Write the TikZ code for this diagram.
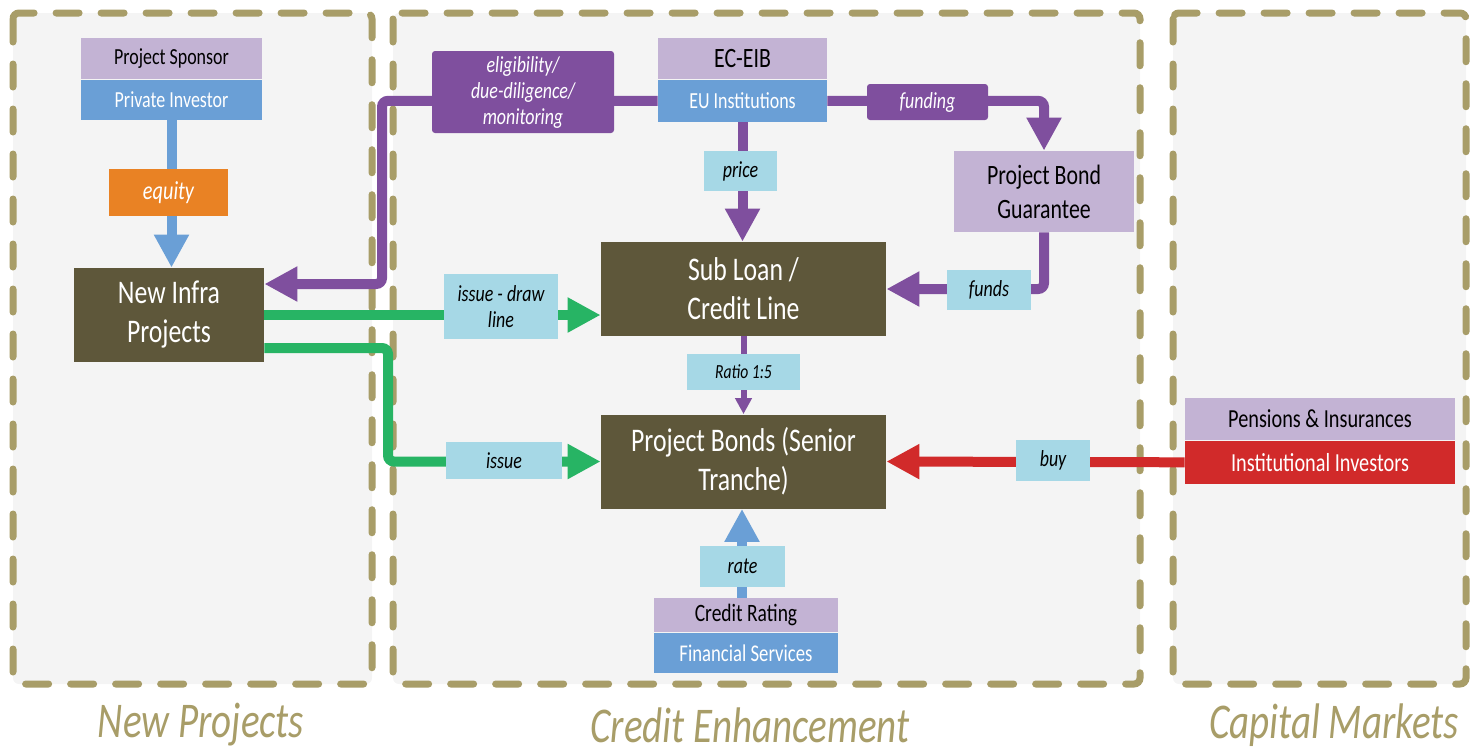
\documentclass[tikz,border=0pt]{standalone}
\usepackage{fontspec}
\setmainfont{Carlito}[FakeStretch=0.78]
\usepackage{tikz}
\usepackage{xcolor}
\usetikzlibrary{
    arrows.meta,
    positioning,
    calc
}
\definecolor{lavender}{HTML}{C3B3D4}
\definecolor{steel}{HTML}{6A9FD6}
\definecolor{tangerine}{HTML}{E98224}
\definecolor{olive}{HTML}{5E573A}
\definecolor{violet}{HTML}{7F4F9E}
\definecolor{sky}{HTML}{A6D8E6}
\definecolor{leaf}{HTML}{27B464}
\definecolor{crimson}{HTML}{D12A2A}
\definecolor{khaki}{HTML}{A89D68}
\definecolor{panelgray}{HTML}{F4F4F4}
\tikzset{
    % Dashed panel style
    panel/.style={
        draw=khaki,
        fill=panelgray,
        line width=3.5pt,
        dash pattern=on 11.5pt off 11pt,
        line cap=round,
        rounded corners=3pt
    },
    % Main entity style
    entity/.style={
        rectangle,
        minimum width=142.5pt,
        minimum height=47pt,
        inner sep=1pt,
        align=center,
        font=\fontsize{16.5}{19.5}\selectfont,
        fill=olive,
        text=white
    },
    % Upper half of a stacked actor
    role/.style={
        rectangle,
        inner sep=0pt,
        align=center,
        font=\fontsize{11.5}{13}\selectfont,
        fill=lavender,
        text=black
    },
    % Lower half of a stacked actor
    actor/.style={
        rectangle,
        inner sep=0pt,
        align=center,
        font=\fontsize{11.5}{13}\selectfont,
        fill=#1,
        text=white
    },
    % Label on a connector
    tag/.style={
        rectangle,
        inner sep=0pt,
        align=center,
        font=\itshape\fontsize{11.5}{13}\selectfont,
        fill=sky,
        text=black
    },
    % Dark label on a connector
    darktag/.style={
        tag,
        fill=#1,
        text=white,
        rounded corners=1.5pt
    },
    % Arrow styles
    flow/.style={
        -{Triangle[length=16.5pt, width=16.5pt]},
        line width=5pt,
        rounded corners=3pt,
        color=#1
    },
    thinflow/.style={
        -{Triangle[length=8pt, width=8pt]},
        line width=3pt,
        color=#1
    },
    % Section title style
    section title/.style={
        font=\itshape\fontsize{25}{28}\selectfont,
        text=khaki
    }
}

\begin{document}
\begin{tikzpicture}[x=0.5pt, y=-0.5pt]
    \useasboundingbox (0,0) rectangle (1481,752);

    % Panels
    \draw[panel] (13,13) rectangle (372,684);
    \draw[panel] (393,13) rectangle (1140,684);
    \draw[panel] (1173,13) rectangle (1466,684);

    % New projects
    \node[role, minimum width=90.5pt, minimum height=20.5pt] (sponsor) at (171.5,58.5) {Project Sponsor};
    \node[actor=steel, minimum width=90.5pt, minimum height=20pt, below=0pt of sponsor] (privinv) {Private Investor};
    \node[entity, minimum width=95pt] (infra) at (169,315) {New Infra\\Projects};

    % Credit enhancement
    \node[role, minimum width=84.5pt, minimum height=20.5pt, font=\fontsize{14}{16}\selectfont] (eceib) at (742.5,58.5) {EC-EIB};
    \node[actor=steel, minimum width=84.5pt, minimum height=21pt, below=0pt of eceib] (euinst) {EU Institutions};
    \node[role, minimum width=90pt, minimum height=40.5pt, font=\fontsize{14}{17}\selectfont] (pbg) at (1044,191.5) {Project Bond\\Guarantee};
    \node[entity] (subloan) at (743.5,289) {Sub Loan /\\Credit Line};
    \node[entity] (bonds) at (743.5,461.5) {Project Bonds (Senior\\Tranche)};
    \node[role, minimum width=92pt, minimum height=17pt, font=\fontsize{12.5}{14}\selectfont] (crating) at (746,615) {Credit Rating};
    \node[actor=steel, minimum width=92pt, minimum height=20pt, below=0pt of crating, font=\fontsize{12}{14}\selectfont] (finserv) {Financial Services};

    % Capital markets
    \node[role, minimum width=135pt, minimum height=21pt, font=\fontsize{13}{15}\selectfont] (pensions) at (1320,419) {Pensions \& Insurances};
    \node[actor=crimson, minimum width=135pt, minimum height=21.5pt, below=0pt of pensions, font=\fontsize{13}{15}\selectfont] (instinv) {Institutional Investors};

    % Connections
    \coordinate (eligcorner) at (382,284);
    \coordinate (issuecorner) at (388,461.5);
    \draw[flow=steel] (privinv.south) -- (privinv.south |- infra.north);
    \draw[flow=violet] (euinst.west) -| (eligcorner) -- ([yshift=15.5pt]infra.east);
    \draw[flow=violet] (euinst.south) -- (euinst.south |- subloan.north);
    \draw[flow=violet] (euinst.east) -| (pbg.north);
    \draw[flow=violet] (pbg.south) |- (subloan.east);
    \draw[flow=leaf] (infra.east) -- (infra.east -| subloan.west);
    \draw[flow=leaf] ([yshift=-16.5pt]infra.east) -| (issuecorner) -- (bonds.west);
    \draw[thinflow=violet] (subloan.south) -- (bonds.north);
    \draw[flow=steel] ([xshift=-2pt]crating.north) -- ([xshift=-2pt]crating.north |- bonds.south);
    \draw[flow=crimson] (instinv.west) -- (bonds.east);

    % Connector labels
    \node[darktag=tangerine, minimum width=59.5pt, minimum height=23.5pt, rounded corners=0pt, font=\itshape\fontsize{13}{15}\selectfont] (equity) at (168.5,192.5) {equity};
    \node[darktag=violet, minimum width=91pt, minimum height=41pt] (elig) at (523,92) {eligibility/\\due-diligence/\\monitoring};
    \node[darktag=violet, minimum width=60.5pt, minimum height=18pt] (funding) at (927.5,102) {funding};
    \node[tag, minimum width=36.5pt, minimum height=20pt] (price) at (740.5,171) {price};
    \node[tag, minimum width=42pt, minimum height=20pt] (funds) at (989,290) {funds};
    \node[tag, minimum width=57pt, minimum height=32.5pt] (issuedraw) at (501,306.5) {issue - draw\\line};
    \node[tag, minimum width=58pt, minimum height=18.5pt] (issue) at (504,460.5) {issue};
    \node[tag, minimum width=56.5pt, minimum height=18pt, font=\itshape\fontsize{10}{12}\selectfont] (ratio) at (743.5,372) {Ratio 1:5};
    \node[tag, minimum width=42.5pt, minimum height=20.5pt] (rate) at (742.5,566.5) {rate};
    \node[tag, minimum width=37pt, minimum height=20.5pt] (buy) at (1053,460.5) {buy};

    % Section titles
    \node[section title] (newproj) at (201,725) {New Projects};
    \node[section title] (crediten) at (750,725) {Credit Enhancement};
    \node[section title] (capmkt) at (1334,725) {Capital Markets};
\end{tikzpicture}
\end{document}
